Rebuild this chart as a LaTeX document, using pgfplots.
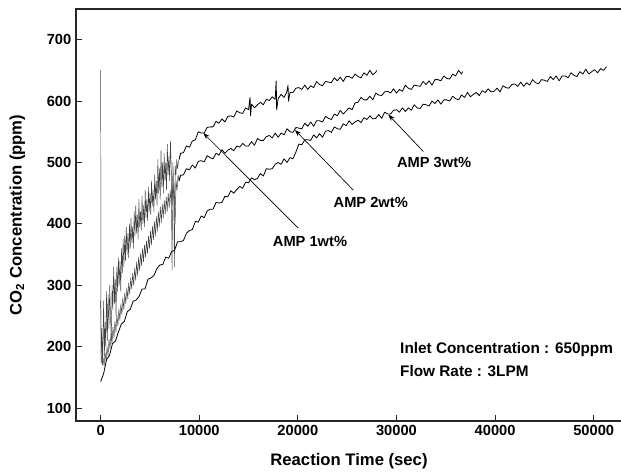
\documentclass[border=0pt]{standalone}
\usepackage{fontspec}
\setmainfont{Liberation Sans}
\usepackage{pgfplots}
\pgfplotsset{compat=1.18}
\usetikzlibrary{arrows.meta}
\begin{document}
\begin{tikzpicture}
\begin{axis}[
  scale only axis, width=409.5pt, height=309pt,
  xmin=-2500, xmax=52870, ymin=79, ymax=750,
  axis line style={line width=1.1pt, black!85},
  xtick={0,10000,20000,30000,40000,50000},
  ytick={100,200,300,400,500,600,700},
  tick align=inside, major tick length=4.5pt,
  xtick pos=bottom, ytick pos=left,
  tick style={line width=0.8pt, black!85},
  scaled x ticks=false, scaled y ticks=false,
  /pgf/number format/1000 sep={},
  /pgf/number format/assume math mode=true,
  tick label style={font=\fontsize{11}{13}\selectfont\bfseries},
  xlabel={Reaction Time (sec)},
  ylabel={CO\textsubscript{2} Concentration (ppm)},
  label style={font=\fontsize{12.5}{15}\selectfont\bfseries},
  xlabel style={at={(axis description cs:0.5,-0.097)}, anchor=center},
  ylabel style={at={(axis description cs:-0.1075,0.5)}, anchor=center},
  curve/.style={black, line width=0.6pt, line join=round, mark=none},
  noisy/.style={black!75, line width=0.35pt, line join=round, mark=none},
]
% AMP 1wt% (noisy start)
\addplot[noisy] coordinates {
(0,650)(40,175)(120,230)(200,170)(300,275)(380,185)(450,240)(520,200)(600,290)(680,210)(760,285)(840,230)(920,300)(1000,250)(1080,210)(1160,300)(1240,260)(1320,330)(1400,270)(1480,310)(1560,250)(1640,330)(1720,290)(1800,345)(1880,300)(1960,340)(2040,290)(2120,360)(2200,320)(2280,375)(2360,330)(2440,380)(2520,340)(2600,395)(2680,350)(2760,385)(2840,345)(2920,400)(3000,360)(3080,410)(3160,370)(3240,395)(3320,360)(3400,420)(3480,380)(3560,430)(3640,385)(3720,415)(3800,375)(3880,440)(3960,395)(4040,420)(4120,390)(4200,445)(4280,400)(4360,430)(4440,395)(4520,455)(4600,410)(4680,440)(4760,405)(4840,460)(4920,420)(5000,450)(5080,415)(5160,470)(5240,430)(5320,455)(5400,420)(5480,480)(5560,440)(5640,470)(5720,430)(5800,505)(5880,450)(5960,490)(6040,440)(6120,520)(6200,460)(6280,500)(6360,450)(6440,515)(6520,470)(6600,500)(6680,455)(6760,530)(6840,480)(6920,510)(7000,470)(7080,535)(7160,490)(7240,325)(7320,500)(7400,470)(7480,330)(7560,495)(7640,480)(7720,505)(7800,490)(7880,500)(7960,505)(8100,515)
};
% AMP 1wt%
\addplot[curve] coordinates {
(7960,505)(8100,515)(8400,516)(8700,527)(9000,525)(9300,535)(9600,537)(9900,550)(10200,548)(10500,548)(10800,557)(11100,558)(11400,558)(11700,567)(12000,564)(12300,571)(12600,566)(12900,575)(13200,576)(13500,574)(13800,584)(14100,581)(14400,580)(14700,589)(15000,586)(15150,606)(15200,576)(15300,595)(15600,589)(15900,594)(16200,598)(16500,594)(16800,603)(17100,601)(17400,607)(17700,603)(17800,633)(17850,586)(18000,604)(18300,611)(18600,606)(18900,616)(19000,626)(19050,600)(19200,614)(19500,614)(19800,621)(20100,622)(20400,619)(20700,626)(21000,619)(21300,625)(21600,622)(21900,632)(22200,627)(22500,625)(22800,632)(23100,631)(23400,630)(23700,638)(24000,633)(24300,639)(24600,632)(24900,640)(25200,640)(25500,637)(25800,644)(26100,640)(26400,638)(26700,646)(27000,642)(27300,650)(27600,643)(27900,647)(28000,650)
};
% AMP 2wt% (noisy start)
\addplot[noisy] coordinates {
(0,275)(60,185)(150,170)(250,182)(350,168)(450,190)(550,176)(650,200)(750,185)(850,212)(950,196)(1050,222)(1150,205)(1250,232)(1350,214)(1450,242)(1550,224)(1650,252)(1750,234)(1850,262)(1950,243)(2050,270)(2150,252)(2250,280)(2350,260)(2450,288)(2550,270)(2650,296)(2750,278)(2850,304)(2950,286)(3050,312)(3150,294)(3250,320)(3350,300)(3450,328)(3550,308)(3650,338)(3750,316)(3850,346)(3950,324)(4050,352)(4150,332)(4250,360)(4350,338)(4450,366)(4550,346)(4650,372)(4750,352)(4850,380)(4950,360)(5050,388)(5150,366)(5250,396)(5350,374)(5450,404)(5550,380)(5650,412)(5750,388)(5850,420)(5950,396)(6050,428)(6150,402)(6250,432)(6350,410)(6450,438)(6550,416)(6650,444)(6750,420)(6850,450)(6950,426)(7050,455)(7150,432)(7250,462)(7350,438)(7450,466)(7550,400)(7650,470)(7750,455)(7850,480)(7950,470)(8100,479)
};
% AMP 2wt%
\addplot[curve] coordinates {
(7950,470)(8100,479)(8400,480)(8700,490)(9000,488)(9300,496)(9600,491)(9900,502)(10200,503)(10500,501)(10800,511)(11100,508)(11400,506)(11700,515)(12000,512)(12300,521)(12600,515)(12900,520)(13200,523)(13500,519)(13800,527)(14100,525)(14400,531)(14700,527)(15000,527)(15300,534)(15600,528)(15900,539)(16200,536)(16500,536)(16800,542)(17100,544)(17400,540)(17700,548)(18000,541)(18300,548)(18600,545)(18900,555)(19200,550)(19500,549)(19800,557)(20100,556)(20400,555)(20700,564)(21000,559)(21300,566)(21600,559)(21900,568)(22200,568)(22500,566)(22800,575)(23100,572)(23400,570)(23700,579)(24000,576)(24300,585)(24600,579)(24900,584)(25200,589)(25500,586)(25800,597)(26100,598)(26400,606)(26700,602)(27000,602)(27300,608)(27600,602)(27900,613)(28200,610)(28500,609)(28800,615)(29100,616)(29400,613)(29700,620)(30000,613)(30300,619)(30600,616)(30900,626)(31200,621)(31500,619)(31800,626)(32100,625)(32400,624)(32700,632)(33000,627)(33300,633)(33600,626)(33900,635)(34200,635)(34500,633)(34800,641)(35100,637)(35400,636)(35700,644)(36000,641)(36300,650)(36600,644)(36700,648)
};
% AMP 3wt%
\addplot[curve] coordinates {
(0,143)(300,156)(600,179)(900,186)(1200,205)(1500,209)(1800,224)(2100,237)(2400,241)(2700,257)(3000,261)(3300,274)(3600,276)(3900,282)(4200,294)(4500,294)(4800,310)(5100,312)(5400,316)(5700,327)(6000,333)(6300,334)(6600,346)(6900,344)(7200,355)(7500,357)(7800,371)(8100,371)(8400,373)(8700,385)(9000,389)(9300,391)(9600,404)(9900,403)(10200,413)(10500,410)(10800,421)(11100,424)(11400,424)(11700,435)(12000,434)(12300,435)(12600,445)(12900,444)(13200,454)(13500,450)(13800,456)(14100,461)(14400,458)(14700,468)(15000,467)(15300,475)(15600,472)(15900,474)(16200,482)(16500,478)(16800,490)(17100,489)(17400,490)(17700,497)(18000,500)(18300,497)(18600,506)(18900,500)(19200,508)(19500,506)(19800,517)(20100,530)(20400,529)(20700,537)(21000,537)(21300,536)(21600,545)(21900,540)(22200,547)(22500,541)(22800,551)(23100,552)(23400,549)(23700,558)(24000,555)(24300,554)(24600,563)(24900,560)(25200,568)(25500,562)(25800,566)(26100,569)(26400,565)(26700,573)(27000,570)(27300,576)(27600,571)(27900,572)(28200,578)(28500,572)(28800,582)(29100,579)(29400,579)(29700,585)(30000,586)(30300,582)(30600,589)(30900,583)(31200,589)(31500,585)(31800,594)(32100,589)(32400,588)(32700,595)(33000,594)(33300,592)(33600,600)(33900,596)(34200,602)(34500,595)(34800,602)(35100,602)(35400,600)(35700,608)(36000,604)(36300,602)(36600,610)(36900,606)(37200,614)(37500,607)(37800,611)(38100,614)(38400,609)(38700,617)(39000,614)(39300,620)(39600,615)(39900,616)(40200,621)(40500,615)(40800,625)(41100,622)(41400,621)(41700,627)(42000,628)(42300,624)(42600,631)(42900,624)(43200,630)(43500,626)(43800,635)(44100,630)(44400,628)(44700,635)(45000,634)(45300,632)(45600,640)(45900,635)(46200,641)(46500,633)(46800,641)(47100,641)(47400,638)(47700,646)(48000,642)(48300,640)(48600,648)(48900,644)(49200,652)(49500,644)(49800,648)(50100,651)(50400,646)(50700,653)(51000,650)(51300,656)
};
% annotations
\draw[line width=0.5pt, -{Stealth[length=5pt,width=3.5pt]}] (axis cs:20040,393) -- (axis cs:10410,548);
\draw[line width=0.5pt, -{Stealth[length=5pt,width=3.5pt]}] (axis cs:25620,455) -- (axis cs:19700,553);
\draw[line width=0.5pt, -{Stealth[length=5pt,width=3.5pt]}] (axis cs:32720,518) -- (axis cs:29170,578);
\node[font=\fontsize{11}{13}\selectfont\bfseries, anchor=center, inner sep=0pt] at (axis cs:21230,371) {AMP 1wt\%};
\node[font=\fontsize{11}{13}\selectfont\bfseries, anchor=center, inner sep=0pt] at (axis cs:27390,435) {AMP 2wt\%};
\node[font=\fontsize{11}{13}\selectfont\bfseries, anchor=center, inner sep=0pt] at (axis cs:33820,500) {AMP 3wt\%};
\node[font=\fontsize{11.5}{14}\selectfont\bfseries, anchor=west, inner sep=0pt] at (axis cs:30355,195) {Inlet Concentration : 650ppm};
\node[font=\fontsize{11.5}{14}\selectfont\bfseries, anchor=west, inner sep=0pt] at (axis cs:30355,161) {Flow Rate : 3LPM};
\coordinate (BL) at (rel axis cs:0,0);
\coordinate (TR) at (rel axis cs:1,1);
\end{axis}
\pgfresetboundingbox
\path ([shift={(-57pt,-39pt)}]BL) rectangle ([shift={(-0.75pt,6.75pt)}]TR);
\end{tikzpicture}
\end{document}
